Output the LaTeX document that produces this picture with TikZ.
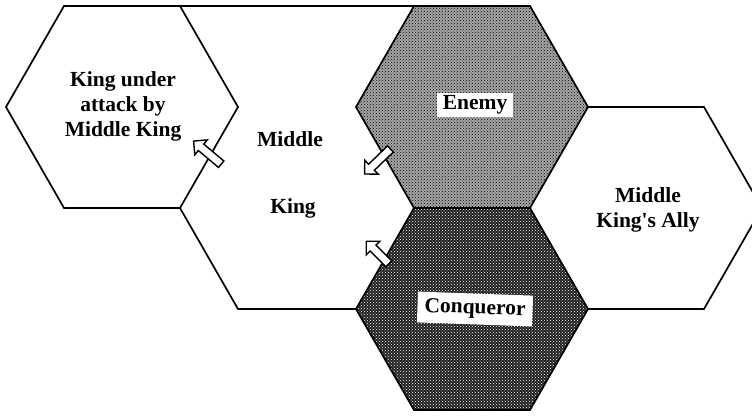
\documentclass[tikz,border=0pt]{standalone}
\usepackage{fontspec}
\setmainfont{Liberation Serif}
\usetikzlibrary{patterns,shapes.arrows}
\def\hexcell[#1](#2,#3){\draw[#1] (#2-116,#3) -- (#2-58,#3-101) -- (#2+58,#3-101) -- (#2+116,#3) -- (#2+58,#3+101) -- (#2-58,#3+101) -- cycle;}

\begin{document}
\begin{tikzpicture}[x=1pt,y=-1pt,line width=1.7pt,
		lbl/.style={font=\fontsize{21.5}{25}\selectfont\bfseries,align=center},
		tag/.style={lbl,fill=white,inner xsep=6pt,inner ysep=3pt},
		hollow/.style={single arrow,draw,fill=white,line width=1.4pt,inner sep=3.5pt,minimum height=36pt,single arrow head extend=5.5pt}]
			%%%%% START %%%%%
			\useasboundingbox (0,0) rectangle (752,415);
			\clip (0,0) rectangle (752,415);
			
			\hexcell[](122,107);
			\draw (180,6) -- (414,6);
			\draw (180,208) -- (238,309) -- (356,309);
			\draw (588,107) -- (704,107) -- (762,208) -- (704,309) -- (588,309);
			
			\hexcell[preaction={fill=black!35},pattern=crosshatch dots](472,107);
			\hexcell[preaction={fill=black!88},pattern=crosshatch dots,pattern color=white](472,309);
			
			\node[hollow,rotate=140] (toKing) at (209,154) {};
			\node[hollow,rotate=224] (toMid) at (379,160) {};
			\node[hollow,rotate=135,minimum height=32pt] (fromCon) at (379,254) {};
			
			\node[lbl] (victim) at (123,106) {King under\\attack by\\Middle King};
			\node[lbl] (midA) at (290,139) {Middle};
			\node[lbl] (midB) at (293,208) {King};
			\node[tag] (enemy) at (475,105) {Enemy};
			\node[tag,inner xsep=7pt,inner ysep=6pt,rotate=-2] (conq) at (475,309) {Conqueror};
			\node[lbl] (ally) at (648,210) {Middle\\King\textquotesingle s Ally};
			%%%%% END %%%%%
		\end{tikzpicture}
\end{document}
